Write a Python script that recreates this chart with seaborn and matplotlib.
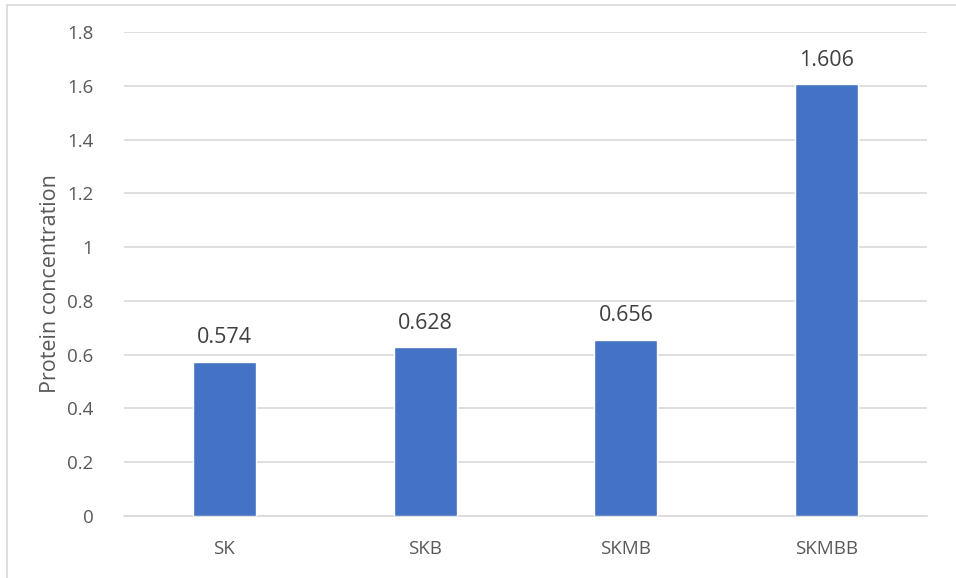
import matplotlib
matplotlib.use("Agg")
import matplotlib.pyplot as plt
import seaborn as sns
import pandas as pd
from matplotlib.patches import Rectangle

samples = ["SK", "SKB", "SKMB", "SKMBB"]
protein = [0.574, 0.628, 0.656, 1.606]
y_ticks = [0, 0.2, 0.4, 0.6, 0.8, 1, 1.2, 1.4, 1.6, 1.8]
y_tick_labels = ["0", "0.2", "0.4", "0.6", "0.8", "1", "1.2", "1.4", "1.6", "1.8"]

df = pd.DataFrame({"sample": samples, "protein": protein})

sns.set_theme(style="white")
plt.rcParams["font.family"] = ["Open Sans", "DejaVu Sans"]
text_color = "#595959"

fig = plt.figure(figsize=(9.56, 5.78), dpi=100)
ax = fig.add_axes([124 / 956, 1 - 516 / 578, (927 - 124) / 956, (516 - 32) / 578])

sns.barplot(data=df, x="sample", y="protein", color="#4472C4", width=0.315,
            saturation=1, ax=ax, zorder=3)

ax.set_ylim(0, 1.8)
ax.set_xlim(-0.5, 3.5)
ax.set_yticks(y_ticks)
ax.set_yticklabels(y_tick_labels)
ax.yaxis.grid(True, color="#D9D9D9", linewidth=1.2, zorder=0)
ax.xaxis.grid(False)
for side in ["top", "right", "left"]:
    ax.spines[side].set_visible(False)
ax.spines["bottom"].set_color("#D9D9D9")
ax.spines["bottom"].set_linewidth(1.2)
ax.tick_params(axis="both", length=0, labelsize=13.5, colors=text_color)
ax.tick_params(axis="y", pad=22)
ax.tick_params(axis="x", pad=17)
ax.set_xlabel("")
ax.set_ylabel("Protein concentration", fontsize=15.5, color=text_color)
ax.yaxis.set_label_coords(-0.078, 0.48)

for i, v in enumerate(protein):
    ax.text(i, v + 0.05, f"{v:.3f}", ha="center", va="bottom",
            fontsize=15.5, color="#404040")

# thin frame around the chart area
fig.patches.append(Rectangle((7 / 956, -0.01), 1.0, 1 - 5 / 578 + 0.01,
                             transform=fig.transFigure, fill=False,
                             edgecolor="#D9D9D9", linewidth=1.2))

fig.savefig("out.png", dpi=100)
